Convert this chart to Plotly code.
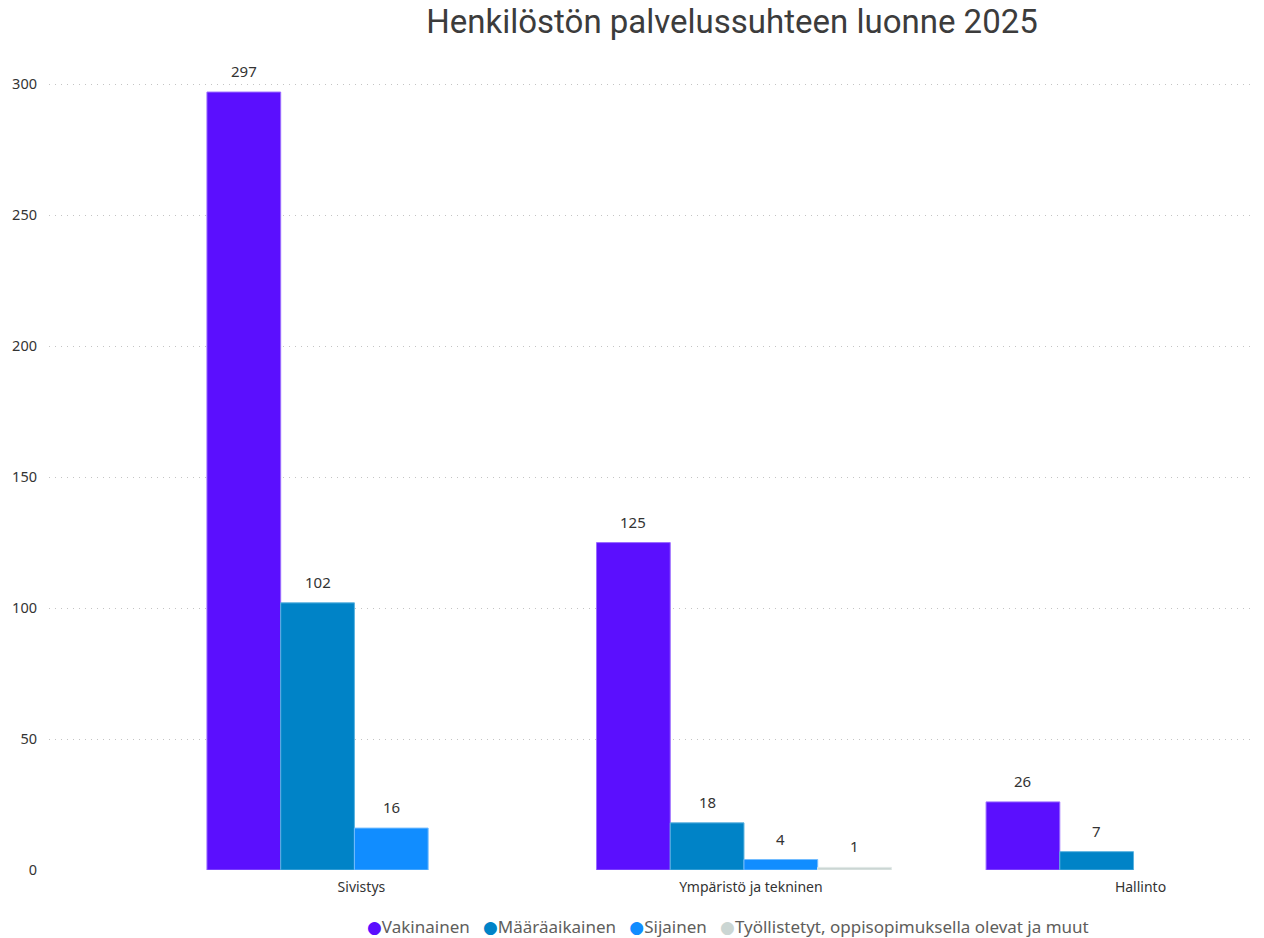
import plotly.graph_objects as go

categories = ["Sivistys", "Ympäristö ja tekninen", "Hallinto"]
series_names = [
    "Vakinainen",
    "Määräaikainen",
    "Sijainen",
    "Työllistetyt, oppisopimuksella olevat ja muut",
]
vakinainen = [297, 125, 26]
maaraaikainen = [102, 18, 7]
sijainen = [16, 4, None]
tyollistetyt = [None, 1, None]

series_values = [vakinainen, maaraaikainen, sijainen, tyollistetyt]
colors = ["#5B0FFE", "#0083C7", "#118DFF", "#CBD6D3"]
edge_colors = ["#9B6BFF", "#5AB2E0", "#72BCFF", "#E1E8E6"]

W, H = 1264, 938
bargap = 0.243
n_series = len(series_names)
bar_w = (1 - bargap) / n_series
FONT = "Noto Sans, Segoe UI, sans-serif"

fig = go.Figure()
for name, vals, col, edge in zip(series_names, series_values, colors, edge_colors):
    fig.add_trace(go.Bar(
        x=categories, y=vals, name=name,
        marker=dict(color=col, line=dict(color=edge, width=1)),
        showlegend=False, hoverinfo="x+y+name",
    ))

# value labels above each bar
annotations = []
for i, vals in enumerate(series_values):
    for ci, v in enumerate(vals):
        if v is None:
            continue
        annotations.append(dict(
            x=ci + (i - (n_series - 1) / 2) * bar_w, y=v,
            xref="x", yref="y", text=str(v), showarrow=False,
            yanchor="bottom", yshift=9,
            font=dict(family=FONT, size=15, color="#333333"),
        ))

# compact legend row: coloured dot directly before each series name
legend_items = [
    f"<span style='color:{col};font-family:DejaVu Sans;font-size:17px'>●</span>{name}"
    for name, col in zip(series_names, colors)
]
annotations.append(dict(
    x=0.5654, y=-0.0696, xref="paper", yref="paper",
    xanchor="center", yanchor="middle", showarrow=False,
    text="\u00a0\u00a0\u00a0".join(legend_items),
    font=dict(family=FONT, size=17, color="#605E5C"),
))

fig.update_layout(
    width=W, height=H,
    margin=dict(l=49, r=14, t=58, b=68),
    paper_bgcolor="white", plot_bgcolor="white",
    barmode="group", bargap=bargap, bargroupgap=0,
    showlegend=False,
    title=dict(
        text="Henkilöstön palvelussuhteen luonne 2025",
        x=732 / W, xanchor="center", xref="container",
        y=1 - 21 / H, yanchor="middle", yref="container",
        font=dict(family="Roboto, sans-serif", size=33, color="#3C3C3C", weight=400),
    ),
    xaxis=dict(
        type="category", range=[-0.784, 2.299],
        showgrid=False, zeroline=False, showline=False, ticks="",
        ticklabelshift=7, ticklabelstandoff=7,
        tickfont=dict(family=FONT, size=14, color="#333333"),
    ),
    yaxis=dict(
        range=[0, 310], dtick=50, tick0=0,
        showgrid=True, gridcolor="#C4C4C4", griddash="1px,5px", gridwidth=1,
        zeroline=False, showline=False, ticks="",
        ticklabelstandoff=11,
        tickfont=dict(family=FONT, size=14.5, color="#333333"),
    ),
    annotations=annotations,
)

fig.write_html("out.html")
